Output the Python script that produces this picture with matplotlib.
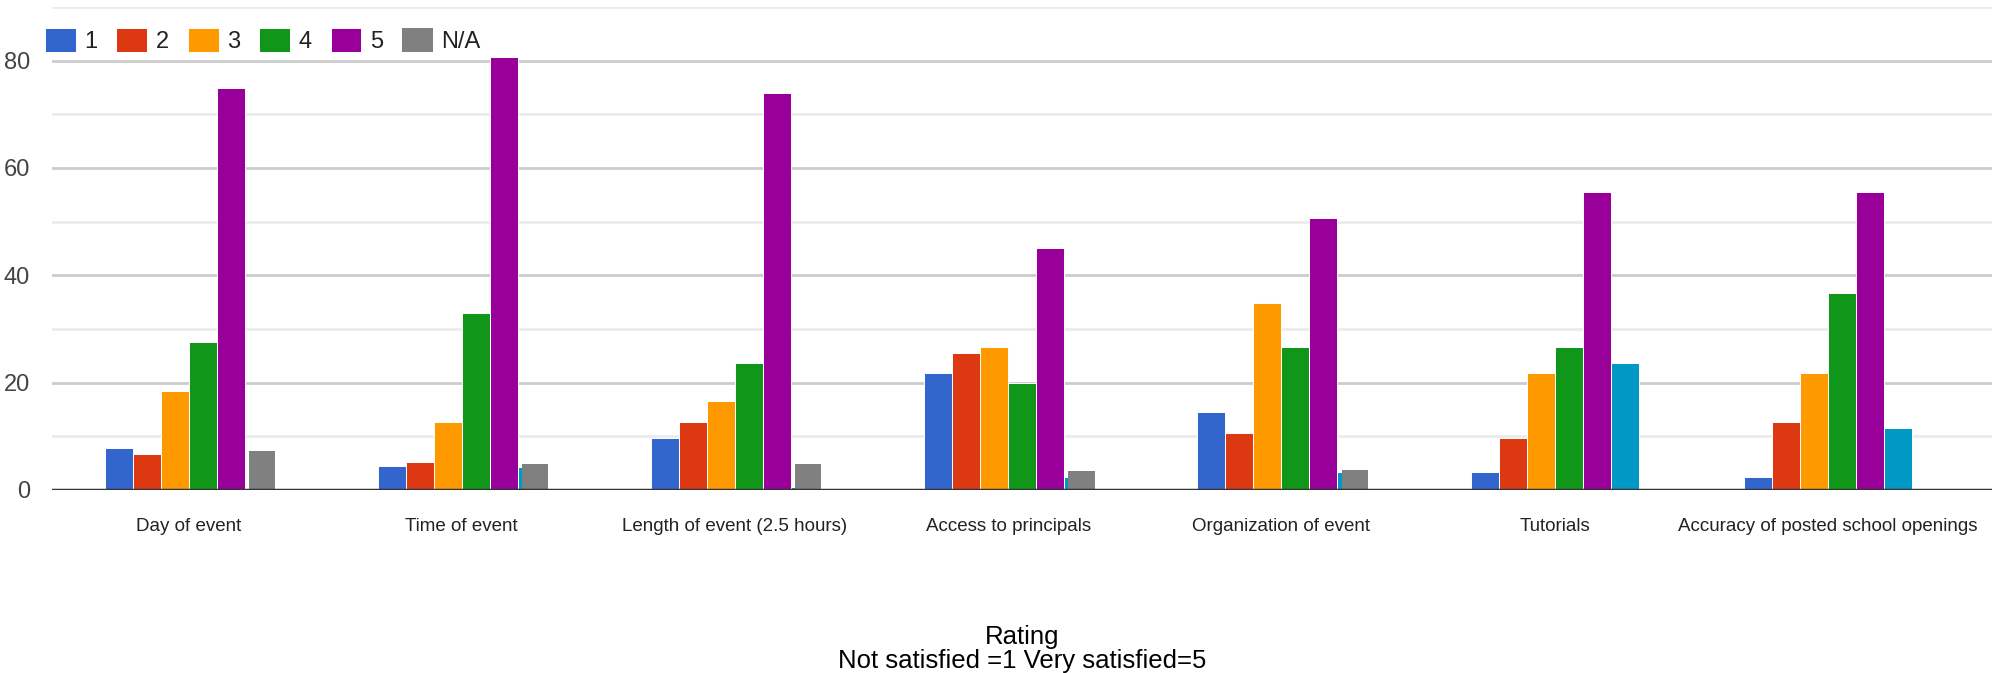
import numpy as np
import matplotlib
matplotlib.use("Agg")
import matplotlib.pyplot as plt
from matplotlib.legend_handler import HandlerTuple

# ---- data ----
categories = ['Day of event', 'Time of event', 'Length of event (2.5 hours)',
              'Access to principals', 'Organization of event', 'Tutorials',
              'Accuracy of posted school openings']
rating_1 = [7.8, 4.5, 9.7, 21.8, 14.6, 3.4, 2.5]
rating_2 = [6.8, 5.3, 12.6, 25.6, 10.7, 9.7, 12.6]
rating_3 = [18.4, 12.6, 16.5, 26.6, 34.9, 21.8, 21.8]
rating_4 = [27.6, 32.9, 23.7, 19.9, 26.6, 26.6, 36.8]
rating_5 = [74.9, 80.7, 73.9, 45.0, 50.7, 55.5, 55.5]
na_teal = [0.2, 4.3, 0.6, 2.5, 3.4, 23.7, 11.6]
na_gray = [7.3, 4.8, 4.8, 3.5, 3.7, 0, 0]

series_labels = ['1', '2', '3', '4', '5']
colors = ['#3366CC', '#DC3912', '#FF9900', '#109618', '#990099']
TEAL = '#0099C6'
GRAY = '#808080'

FONT = ['Liberation Sans', 'DejaVu Sans']

fig = plt.figure(figsize=(19.92, 6.73), dpi=100)
ax = fig.add_axes([52 / 1992, 1 - 490 / 673, 1 - 52 / 1992, 483 / 673])

x = np.arange(len(categories))
slot = 0.1025
values = [rating_1, rating_2, rating_3, rating_4, rating_5]

handles = []
for i, (vals, col, lab) in enumerate(zip(values, colors, series_labels)):
    h = ax.bar(x + (i - 2.5) * slot, vals, width=slot, color=col,
               edgecolor='white', linewidth=0.7, zorder=3, label=lab)
    handles.append(h)

# N/A slot: teal bars with the grey ones laid over them, shifted a touch
h_teal = ax.bar(x + 2.5 * slot, na_teal, width=slot, color=TEAL,
                edgecolor='white', linewidth=0.7, zorder=3)
h_gray = ax.bar(x + 2.5 * slot + 0.012, na_gray, width=slot * 0.93,
                color=GRAY, linewidth=0, zorder=4)

ax.set_xlim(-0.5, -0.5 + 1940 / 273.2)
ax.set_ylim(0, 90)

# gridlines
for v in range(10, 91, 20):
    ax.axhline(v, color='#ebebeb', lw=2, zorder=1)
for v in range(20, 81, 20):
    ax.axhline(v, color='#cccccc', lw=2, zorder=1)
ax.axhline(0, color='#333333', lw=2.5, zorder=5)

for s in ax.spines.values():
    s.set_visible(False)

ax.set_yticks(range(0, 81, 20))
ax.set_yticklabels([str(v) for v in range(0, 81, 20)],
                   fontsize=17, color='#444444', family=FONT)
ax.tick_params(axis='y', length=0, pad=16)

ax.set_xticks(x)
ax.set_xticklabels(categories, fontsize=13.5, color='#222222', family=FONT)
ax.tick_params(axis='x', length=0, pad=20)

leg = fig.legend(handles + [(h_teal, h_gray)], series_labels + ['N/A'],
                 handler_map={tuple: HandlerTuple(ndivide=1)},
                 loc='upper left', bbox_to_anchor=(45 / 1992, 1 - 28 / 673),
                 ncol=6, frameon=False, borderpad=0, borderaxespad=0,
                 handlelength=1.3, handleheight=1.2, handletextpad=0.35,
                 columnspacing=0.82, prop={'family': FONT, 'size': 17})
for t in leg.get_texts():
    t.set_color('#222222')

fig.text((52 + 1992) / 2 / 1992, 0.0,
         'Rating\nNot satisfied =1 Very satisfied=5',
         ha='center', va='bottom', fontsize=18.5, family=FONT,
         color='black', linespacing=1.02)

fig.savefig('out.png', dpi=100)
